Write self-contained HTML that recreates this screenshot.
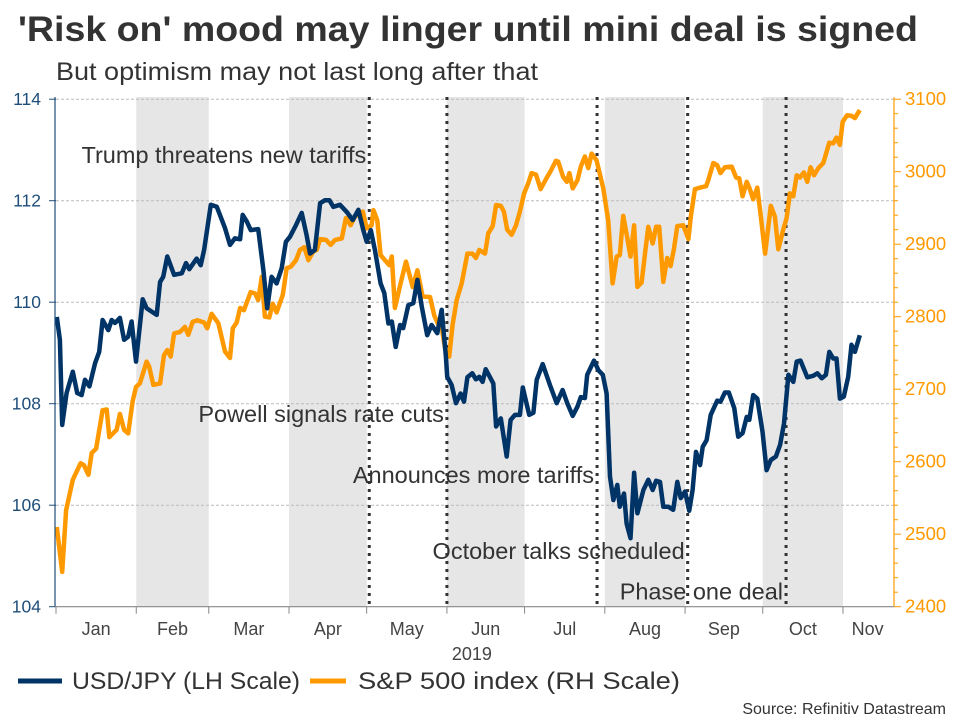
<!DOCTYPE html>
<html><head><meta charset="utf-8"><style>
body{margin:0;background:#fff;width:960px;height:720px;overflow:hidden;font-family:"Liberation Sans",Arial,sans-serif}
</style></head><body>
<svg width="960" height="720" xmlns="http://www.w3.org/2000/svg" font-family="Liberation Sans, Arial, sans-serif">
<text x="18" y="41" font-size="35" font-weight="bold" fill="#333" textLength="900" lengthAdjust="spacingAndGlyphs">'Risk on' mood may linger until mini deal is signed</text>
<text x="56" y="80" font-size="25" fill="#333" textLength="482" lengthAdjust="spacingAndGlyphs">But optimism may not last long after that</text>
<g id="bands"></g><g id="grid"></g><g id="events"></g><g id="series"></g><g id="axes"></g>
<g>
<line x1="18" y1="681" x2="62" y2="681" stroke="#003366" stroke-width="5"/>
<text x="72" y="689" font-size="24" fill="#333" textLength="228" lengthAdjust="spacingAndGlyphs">USD/JPY (LH Scale)</text>
<line x1="310" y1="681" x2="346" y2="681" stroke="#ff9900" stroke-width="5"/>
<text x="358" y="689" font-size="24" fill="#333" textLength="322" lengthAdjust="spacingAndGlyphs">S&amp;P 500 index (RH Scale)</text>
</g>
<text x="946" y="714" font-size="16" fill="#333" text-anchor="end">Source: Refinitiv Datastream</text>
</svg>
<script>
const monthLabels=["Jan","Feb","Mar","Apr","May","Jun","Jul","Aug","Sep","Oct","Nov"];
const monthStarts=[0,31,59,90,120,151,181,212,243,273,304];
const leftTicks=[104,106,108,110,112,114];
const rightTicks=[2400,2500,2600,2700,2800,2900,3000,3100];
const eventDays=[121,151,209,244,282];
const eventLabels=["Trump threatens new tariffs","Powell signals rate cuts","Announces more tariffs","October talks scheduled","Phase one deal"];
const eventLabelVals=[112.9,107.8,106.6,105.1,104.3];
const jpyDays=[0.3,1.5,2.4,4.1,6.5,8.2,9.9,11.2,12.9,15.1,16.7,18.0,20.2,21.5,22.8,24.7,26.3,27.9,29.2,30.9,33.5,35.0,38.9,40.2,41.4,43.0,45.6,48.6,50.2,51.5,54.3,55.9,57.2,59.8,62.1,65.3,67.2,69.1,71.1,72.1,73.7,75.2,78.1,80.1,81.6,83.3,85.2,87.2,88.8,90.4,92.7,94.9,96.8,98.1,100.0,102.0,103.9,105.6,107.1,109.7,112.3,114.6,116.8,118.7,120.0,121.6,123.2,125.4,126.8,128.4,129.7,131.2,132.9,134.1,136.1,138.0,139.6,141.3,143.4,145.1,147.3,149.0,150.6,151.1,152.8,154.5,156.3,157.6,158.9,160.8,162.2,163.5,164.8,166.0,168.9,170.0,171.8,174.1,175.6,177.3,179.2,180.3,182.8,184.4,185.7,188.0,190.8,193.4,195.7,197.5,199.6,201.4,202.7,204.3,205.2,207.8,209.5,211.2,212.7,214.0,215.3,216.8,217.8,219.4,220.4,221.9,223.3,224.6,226.9,228.8,230.5,231.8,233.3,234.6,236.5,238.4,240.0,241.3,243.0,244.6,245.9,247.2,248.8,249.8,251.3,252.9,255.4,256.7,258.4,259.9,262.0,263.5,265.2,266.8,267.8,269.3,270.9,272.9,274.5,276.1,278.1,279.7,281.2,282.9,284.8,286.1,287.6,290.2,292.5,294.1,295.8,297.4,298.7,300.2,301.5,302.8,304.3,306.0,307.3,308.6,310.5];
const jpyValues=[109.71,109.26,107.58,108.21,108.63,108.21,108.17,108.47,108.34,108.80,109.02,109.65,109.45,109.65,109.59,109.69,109.26,109.32,109.62,108.83,110.06,109.88,109.75,110.40,110.50,110.90,110.54,110.57,110.77,110.65,110.86,110.73,111.03,111.92,111.88,111.46,111.13,111.26,111.24,111.72,111.59,111.42,111.44,110.63,109.88,110.50,110.37,110.67,111.19,111.29,111.52,111.76,111.32,110.96,111.03,111.95,112.01,112.01,111.88,111.92,111.78,111.62,111.82,111.42,111.19,111.42,111.03,110.37,110.18,109.58,109.62,109.12,109.55,109.49,109.94,109.98,110.44,109.91,109.35,109.55,109.39,109.85,108.93,108.53,108.37,108.01,108.20,108.04,108.52,108.60,108.48,108.53,108.43,108.68,108.40,107.55,107.71,106.96,107.68,107.78,107.78,108.32,107.78,107.82,108.47,108.78,108.37,108.01,108.27,108.01,107.76,107.94,108.13,108.11,108.57,108.85,108.66,108.57,108.20,106.56,106.10,106.40,105.97,106.23,105.64,105.35,106.64,105.84,106.30,106.50,106.30,106.48,106.46,105.97,105.97,105.91,106.46,106.14,106.27,105.89,106.30,107.05,106.79,107.15,107.28,107.78,108.06,108.04,108.22,108.22,107.91,107.35,107.42,107.74,107.68,108.17,108.10,107.45,106.69,106.89,106.96,107.19,107.61,108.57,108.43,108.83,108.85,108.52,108.55,108.60,108.50,108.57,109.02,108.89,108.89,108.10,108.14,108.53,109.16,109.02,109.35];
const spxDays=[0.3,2.4,3.9,6.5,9.5,10.8,12.5,13.8,15.5,18.0,19.6,20.6,23.4,24.7,26.3,27.9,29.6,30.9,32.4,35.0,36.0,37.6,40.2,41.7,43.0,44.3,45.6,47.9,49.8,51.1,52.8,54.6,57.2,58.4,60.1,62.7,65.3,67.2,68.3,69.8,71.1,72.6,75.2,76.9,78.1,79.5,80.7,82.4,83.7,85.2,87.6,89.1,90.7,92.7,94.2,95.9,97.5,99.4,100.7,102.0,104.3,106.1,107.8,110.4,112.0,113.8,115.5,118.5,120.0,121.9,122.6,124.1,125.4,128.7,129.7,130.9,133.1,135.2,137.8,139.6,141.6,144.5,146.1,147.7,148.7,150.3,151.9,153.2,154.8,156.7,158.9,160.9,162.2,163.5,165.7,167.0,168.7,170.0,171.8,173.0,174.3,176.0,177.7,179.2,180.8,182.4,183.7,185.4,187.2,189.3,191.1,193.1,194.0,195.9,197.3,198.3,199.6,201.4,202.7,204.3,205.6,206.9,208.8,211.4,213.3,215.0,216.6,217.8,219.1,220.6,221.9,223.3,224.6,226.2,227.5,228.8,230.5,231.8,233.0,234.6,236.1,237.4,238.7,240.0,242.3,244.3,245.2,246.8,248.8,251.1,252.0,253.9,255.4,256.7,258.4,261.0,262.7,263.9,265.2,266.8,268.1,269.3,270.9,272.2,273.9,276.1,277.7,279.0,280.9,282.2,283.5,284.8,286.1,287.4,288.9,290.2,291.5,292.8,294.5,296.4,298.7,300.2,301.5,302.8,303.9,305.6,307.3,308.6,310.5];
const spxValues=[2510,2448,2533,2575,2598,2595,2582,2612,2618,2671,2672,2634,2644,2666,2644,2639,2683,2703,2708,2738,2731,2706,2708,2747,2754,2745,2777,2779,2786,2775,2793,2795,2792,2784,2804,2791,2752,2743,2784,2792,2812,2809,2834,2832,2823,2855,2800,2799,2818,2806,2830,2867,2869,2878,2892,2896,2878,2890,2892,2907,2906,2899,2906,2908,2936,2926,2938,2945,2922,2926,2947,2933,2885,2871,2883,2812,2846,2876,2841,2864,2828,2827,2802,2789,2791,2756,2745,2789,2823,2846,2887,2887,2881,2892,2887,2915,2925,2954,2953,2945,2920,2913,2926,2945,2970,2984,2998,2996,2976,2990,3001,3015,3014,2993,2986,2998,2977,2988,3007,3021,3005,3025,3016,2977,2933,2846,2883,2885,2939,2910,2883,2926,2841,2847,2887,2924,2901,2924,2924,2848,2881,2870,2894,2925,2926,2907,2938,2976,2978,2980,2989,3012,3009,2998,3006,3007,2992,2991,2966,2986,2975,2962,2978,2940,2887,2953,2938,2893,2920,2936,2970,2966,2995,2992,2999,2986,3006,2995,3005,3012,3040,3039,3047,3037,3069,3078,3077,3074,3085];

const NS="http://www.w3.org/2000/svg";
const X0=56,X1=894,Y0=606.7,Y1=99.2,TOP=97;
const dayPx=(843-56)/304;
const xs=d=>X0+d*dayPx;
const yL=v=>Y0-(v-104)/10*(Y0-Y1);
const yR=v=>Y0-(v-2400)/700*(Y0-Y1);
function mk(tag,attrs,parent){const e=document.createElementNS(NS,tag);for(const k in attrs)e.setAttribute(k,attrs[k]);parent.appendChild(e);return e;}
const bands=document.getElementById('bands'),grid=document.getElementById('grid'),events=document.getElementById('events'),series=document.getElementById('series'),axes=document.getElementById('axes');
for(let i=1;i<monthStarts.length-1;i+=2){
  const r=mk('rect',{x:xs(monthStarts[i]),y:TOP,width:xs(monthStarts[i+1])-xs(monthStarts[i]),height:Y0-TOP,fill:'#e6e6e6'},bands);
  
  
}
leftTicks.forEach(t=>{
  if(t===104)return;
  const l=mk('line',{x1:X0,x2:X1,y1:yL(t),y2:yL(t),stroke:'#bbb','stroke-width':1,'stroke-dasharray':'3,2'},grid);
  
  
});
eventDays.forEach((d,i)=>{
  const x=xs(d);
  const l=mk('line',{x1:x,x2:x,y1:TOP,y2:Y0,stroke:'#333','stroke-width':3,'stroke-dasharray':'3,5'},events);
  
  
  const t=mk('text',{x:x-3,y:yL(eventLabelVals[i])+8,'font-size':23.5,fill:'#333','text-anchor':'end'},events);
  t.textContent=eventLabels[i];
  
  
});
function path(days,vals,f){return days.map((d,i)=>(i?'L':'M')+xs(d).toFixed(1)+','+f(vals[i]).toFixed(1)).join('');}
const ps=mk('path',{d:path(spxDays,spxValues,yR),fill:'none',stroke:'#ff9900','stroke-width':4.5,'stroke-linejoin':'round'},series);


const pj=mk('path',{d:path(jpyDays,jpyValues,yL),fill:'none',stroke:'#003366','stroke-width':4.5,'stroke-linejoin':'round'},series);


const la=mk('line',{x1:X0-1,x2:X0-1,y1:TOP,y2:Y0,stroke:'#1f4e79','stroke-width':1.2},axes);


leftTicks.forEach(t=>{
  mk('line',{x1:X0-7,x2:X0,y1:yL(t),y2:yL(t),stroke:'#1f4e79'},axes);
  const tx=mk('text',{x:41,y:yL(t)+6,'font-size':17.5,fill:'#1f4e79','text-anchor':'end'},axes);
  tx.textContent=t;
  
  
});
const ra=mk('line',{x1:X1,x2:X1,y1:TOP,y2:Y0,stroke:'#ff9900','stroke-width':1.2},axes);


for(let v=2400;v<=3100;v+=20){mk('line',{x1:X1,x2:X1+(v%100===0?7:4),y1:yR(v),y2:yR(v),stroke:'#ff9900'},axes);}
rightTicks.forEach(t=>{
  const tx=mk('text',{x:905,y:yR(t)+6,'font-size':18.5,fill:'#ff9900'},axes);
  tx.textContent=t;
  
  
});
const ba=mk('line',{x1:X0-1,x2:X1,y1:Y0,y2:Y0,stroke:'#888','stroke-width':1.2},axes);


monthStarts.forEach(d=>mk('line',{x1:xs(d),x2:xs(d),y1:Y0,y2:Y0+7,stroke:'#888'},axes));
monthLabels.forEach((m,i)=>{
  const a=monthStarts[i],b=i<monthStarts.length-1?monthStarts[i+1]:a+19;
  const tx=mk('text',{x:(xs(a)+xs(b))/2,y:635,'font-size':18,fill:'#444','text-anchor':'middle'},axes);
  tx.textContent=m;
  
  
});
const yr=mk('text',{x:xs(151)+25,y:660,'font-size':18,fill:'#444','text-anchor':'middle'},axes);
yr.textContent='2019';


</script>
</body></html>
